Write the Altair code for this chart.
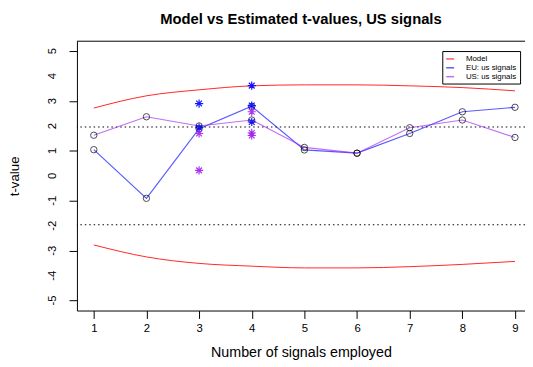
import altair as alt
import pandas as pd

# ---- data ----
x_vals = [1, 2, 3, 4, 5, 6, 7, 8, 9]
y_ticks = [-5, -4, -3, -2, -1, 0, 1, 2, 3, 4, 5]
model_upper = [2.72, 3.21, 3.45, 3.61, 3.65, 3.65, 3.61, 3.54, 3.41]
model_lower = [-2.77, -3.25, -3.51, -3.62, -3.69, -3.69, -3.64, -3.55, -3.43]
eu_vals = [1.05, -0.90, 1.89, 2.79, 1.04, 0.91, 1.70, 2.57, 2.75]
us_vals = [1.63, 2.37, 2.00, 2.24, 1.14, 0.91, 1.93, 2.24, 1.54]

eu_star_x = [3, 3, 4, 4, 4]
eu_star_t = [2.90, 1.93, 3.62, 2.82, 2.16]
us_star_x = [3, 3, 4, 4, 4]
us_star_t = [1.70, 0.22, 2.57, 1.62, 1.72]

crit_vals = [1.96, -1.96]

series_names = ["Model", "EU: us signals", "US: us signals"]
series_colors = ["#ff0000", "#0000ff", "#a020f0"]

# ---- tables ----
model_df = pd.DataFrame({
    "x": x_vals + x_vals,
    "t": model_upper + model_lower,
    "series": ["Model"] * 18,
    "curve": ["upper"] * 9 + ["lower"] * 9,
})
est_df = pd.DataFrame({
    "x": x_vals + x_vals,
    "t": eu_vals + us_vals,
    "series": ["EU: us signals"] * 9 + ["US: us signals"] * 9,
})
star_df = pd.DataFrame({
    "x": eu_star_x + us_star_x,
    "t": eu_star_t + us_star_t,
    "series": ["EU: us signals"] * 5 + ["US: us signals"] * 5,
})
crit_df = pd.DataFrame({"t": crit_vals})
ytick_df = pd.DataFrame({"t": y_ticks, "lab": [str(v) for v in y_ticks]})
top_df = pd.DataFrame({"k": [0]})

FONT = "Liberation Sans"
W, H = 455, 273.5

xscale = alt.Scale(domain=[0.68, 9.19], nice=False, zero=False)
yscale = alt.Scale(domain=[-5.4, 5.4], nice=False, zero=False)
cscale = alt.Scale(domain=series_names, range=series_colors)

xaxis = alt.Axis(values=x_vals, title="Number of signals employed", grid=False,
                 tickSize=8, labelPadding=4, titlePadding=12, labelFlush=False,
                 labelOverlap=False,
                 domainColor="black", tickColor="black", labelColor="black",
                 titleColor="black", labelFont=FONT, titleFont=FONT,
                 labelFontSize=11.5, titleFontSize=14.5, titleFontWeight="normal")
yaxis = alt.Axis(values=y_ticks, title="t-value", grid=False, labels=False,
                 tickSize=8,
                 domainColor="black", tickColor="black",
                 titleColor="black", titleFont=FONT,
                 titleFontSize=13.5, titleFontWeight="normal",
                 titleX=-63, titleY=H / 2, titleAngle=270, titleBaseline="middle",
                 titleAlign="center")

X = alt.X("x:Q", scale=xscale, axis=xaxis)
Y = alt.Y("t:Q", scale=yscale, axis=yaxis)

legend = alt.Legend(title=None, orient="none", legendX=371, legendY=10,
                    strokeColor="black", padding=3, symbolType="stroke",
                    symbolSize=64, symbolStrokeWidth=1.5, symbolOpacity=1,
                    labelFontSize=8, labelFont=FONT, labelColor="black",
                    rowPadding=0, fillColor="white", labelOffset=11)

model_lines = alt.Chart(model_df).mark_line(
    interpolate="monotone", strokeWidth=1, opacity=0.85
).encode(x=X, y=Y, color=alt.Color("series:N", scale=cscale, legend=legend),
         detail="curve:N")

est_lines = alt.Chart(est_df).mark_line(strokeWidth=1.2, opacity=0.65).encode(
    x="x:Q", y="t:Q", color=alt.Color("series:N", scale=cscale))

circles = alt.Chart(est_df).mark_point(
    shape="circle", filled=False, size=42, color="black", strokeWidth=1, opacity=0.7
).encode(x="x:Q", y="t:Q")

ASTERISK = "M-1,0L1,0M0,-1L0,1M-0.7,-0.7L0.7,0.7M-0.7,0.7L0.7,-0.7"
stars = alt.Chart(star_df).mark_point(
    shape=ASTERISK, filled=False, size=70, strokeWidth=1.2, opacity=0.9
).encode(x="x:Q", y="t:Q", color=alt.Color("series:N", scale=cscale))

crit = alt.Chart(crit_df).mark_rule(
    strokeDash=[1.5, 3], color="black", strokeWidth=1
).encode(y="t:Q")

ylabels = alt.Chart(ytick_df).mark_text(
    angle=270, align="center", baseline="bottom", font=FONT, fontSize=11.5,
    color="black"
).encode(y=alt.Y("t:Q", scale=yscale), x=alt.value(-19), text="lab:N")

top_border = alt.Chart(top_df).mark_rule(color="black", strokeWidth=1).encode(
    y=alt.value(0))

chart = alt.layer(crit, model_lines, est_lines, circles, stars, ylabels,
                  top_border).properties(
    width=W, height=H,
    title=alt.TitleParams("Model vs Estimated t-values, US signals", font=FONT,
                          fontSize=15, fontWeight="bold", color="black",
                          anchor="middle", frame="group", dx=0, offset=14),
    autosize=alt.AutoSizeParams(type="none"),
    padding={"left": 70, "top": 31, "right": 0, "bottom": 47},
).configure_view(stroke=None)

chart.save("out.html", embed_options={"renderer": "svg", "actions": False})
